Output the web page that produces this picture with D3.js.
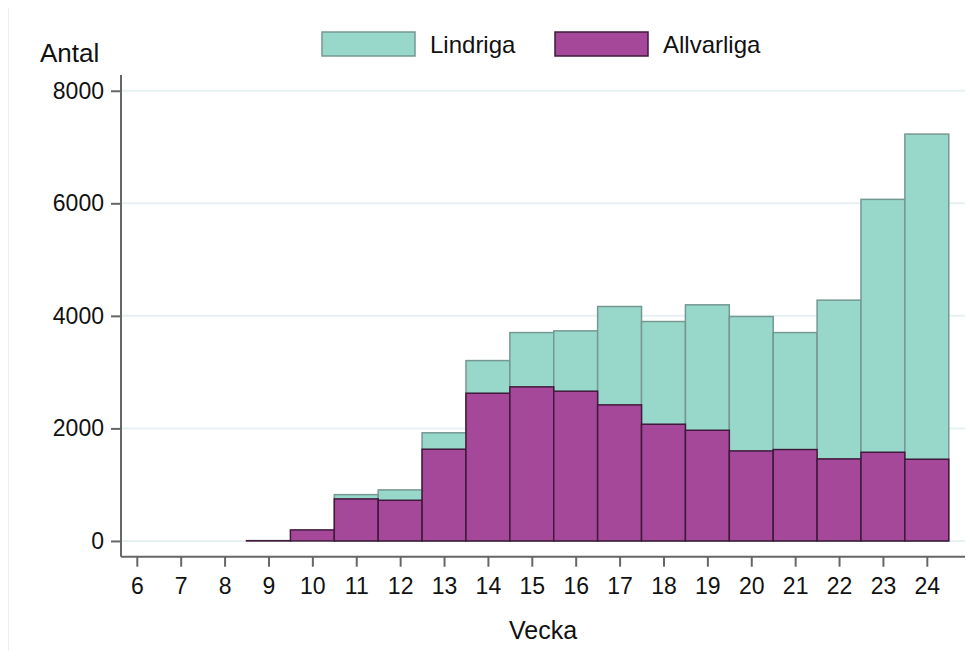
<!DOCTYPE html>
<html>
<head>
<meta charset="utf-8">
<script src="https://cdn.jsdelivr.net/npm/d3@7"></script>
<style>
  html, body { margin: 0; padding: 0; background: #ffffff; }
  svg { display: block; font-family: "Liberation Sans", Arial, sans-serif; }
</style>
</head>
<body>
<svg id="chart" width="977" height="651"></svg>
<script>
// ---- data ----
const weeks = [6, 7, 8, 9, 10, 11, 12, 13, 14, 15, 16, 17, 18, 19, 20, 21, 22, 23, 24];
const allvarliga = [null, null, null, 5, 196, 747, 723, 1630, 2625, 2738, 2661, 2418, 2074, 1967, 1600, 1624, 1458, 1576, 1452];
const lindriga   = [null, null, null, 0, 0, 76, 184, 292, 580, 965, 1072, 1748, 1825, 2229, 2388, 2079, 2821, 4494, 5778];
const yTicks = [0, 2000, 4000, 6000, 8000];
const seriesNames = ["Lindriga", "Allvarliga"];
const xTitle = "Vecka";
const yTitle = "Antal";

const colTeal = "#98d8cb", colTealStroke = "#759891";
const colPurple = "#a6489a", colPurpleStroke = "#3f1a3b";

const svg = d3.select("#chart");

const x = d3.scaleLinear().domain([5.64, 24.87]).range([121, 965]);
const y = d3.scaleLinear().domain([-280, 8280]).range([556.7, 75]);

// faint outer frame line on the left
svg.append("line").attr("x1", 8.5).attr("x2", 8.5).attr("y1", 8).attr("y2", 651)
  .attr("stroke", "#eeeeee").attr("stroke-width", 1);

// gridlines
svg.append("g").selectAll("line").data(yTicks).join("line")
  .attr("x1", 122).attr("x2", 965)
  .attr("y1", d => y(d)).attr("y2", d => y(d))
  .attr("stroke", "#e8f1f2").attr("stroke-width", 2);

const data = weeks.map((w, i) => ({
  week: w,
  a: allvarliga[i],
  total: allvarliga[i] == null ? null : allvarliga[i] + lindriga[i]
})).filter(d => d.a != null);

// teal (total) bars
svg.append("g").selectAll("rect").data(data.filter(d => d.total > d.a)).join("rect")
  .attr("x", d => x(d.week - 0.5))
  .attr("width", d => x(d.week + 0.5) - x(d.week - 0.5))
  .attr("y", d => y(d.total))
  .attr("height", d => y(0) - y(d.total))
  .attr("fill", colTeal)
  .attr("stroke", colTealStroke).attr("stroke-width", 1.5);

// purple bars
svg.append("g").selectAll("rect").data(data).join("rect")
  .attr("x", d => x(d.week - 0.5))
  .attr("width", d => x(d.week + 0.5) - x(d.week - 0.5))
  .attr("y", d => y(d.a))
  .attr("height", d => Math.max(0, y(0) - y(d.a)))
  .attr("fill", colPurple)
  .attr("stroke", colPurpleStroke).attr("stroke-width", 1.5);

// y axis
const yAxis = d3.axisLeft(y).tickValues(yTicks).tickSize(10).tickPadding(7).tickFormat(d3.format("d"));
const gy = svg.append("g").attr("transform", "translate(121,0)").call(yAxis);
gy.select(".domain").attr("d", `M0,${y.range()[1]}V${y.range()[0]}`).attr("stroke", "#666").attr("stroke-width", 2);
gy.selectAll(".tick line").attr("stroke", "#666").attr("stroke-width", 2);
gy.selectAll(".tick text").attr("font-size", 23).attr("fill", "#111")
  .attr("font-family", "Liberation Sans, Arial, sans-serif");

// x axis
const xAxis = d3.axisBottom(x).tickValues(weeks).tickSize(10).tickPadding(11).tickFormat(d3.format("d"));
const gx = svg.append("g").attr("transform", "translate(0,556.7)").call(xAxis);
gx.select(".domain").attr("d", `M${x.range()[0]},0H${x.range()[1]}`).attr("stroke", "#666").attr("stroke-width", 2);
gx.selectAll(".tick line").attr("stroke", "#666").attr("stroke-width", 2);
gx.selectAll(".tick text").attr("font-size", 23).attr("fill", "#111")
  .attr("font-family", "Liberation Sans, Arial, sans-serif");

// titles
svg.append("text").attr("x", 40).attr("y", 62).attr("font-size", 26).attr("fill", "#111").text(yTitle);
svg.append("text").attr("x", 543).attr("y", 638.5).attr("text-anchor", "middle")
  .attr("font-size", 25).attr("fill", "#111").text(xTitle);

// legend
const legend = [
  { name: seriesNames[0], fill: colTeal, stroke: colTealStroke, x: 322 },
  { name: seriesNames[1], fill: colPurple, stroke: colPurpleStroke, x: 555 }
];
const lg = svg.append("g").selectAll("g").data(legend).join("g");
lg.append("rect").attr("x", d => d.x).attr("y", 32).attr("width", 93).attr("height", 24)
  .attr("fill", d => d.fill).attr("stroke", d => d.stroke).attr("stroke-width", 1.5);
lg.append("text").attr("x", d => d.x + 108).attr("y", 53.3).attr("font-size", 24)
  .attr("fill", "#111").text(d => d.name);
</script>
</body>
</html>
